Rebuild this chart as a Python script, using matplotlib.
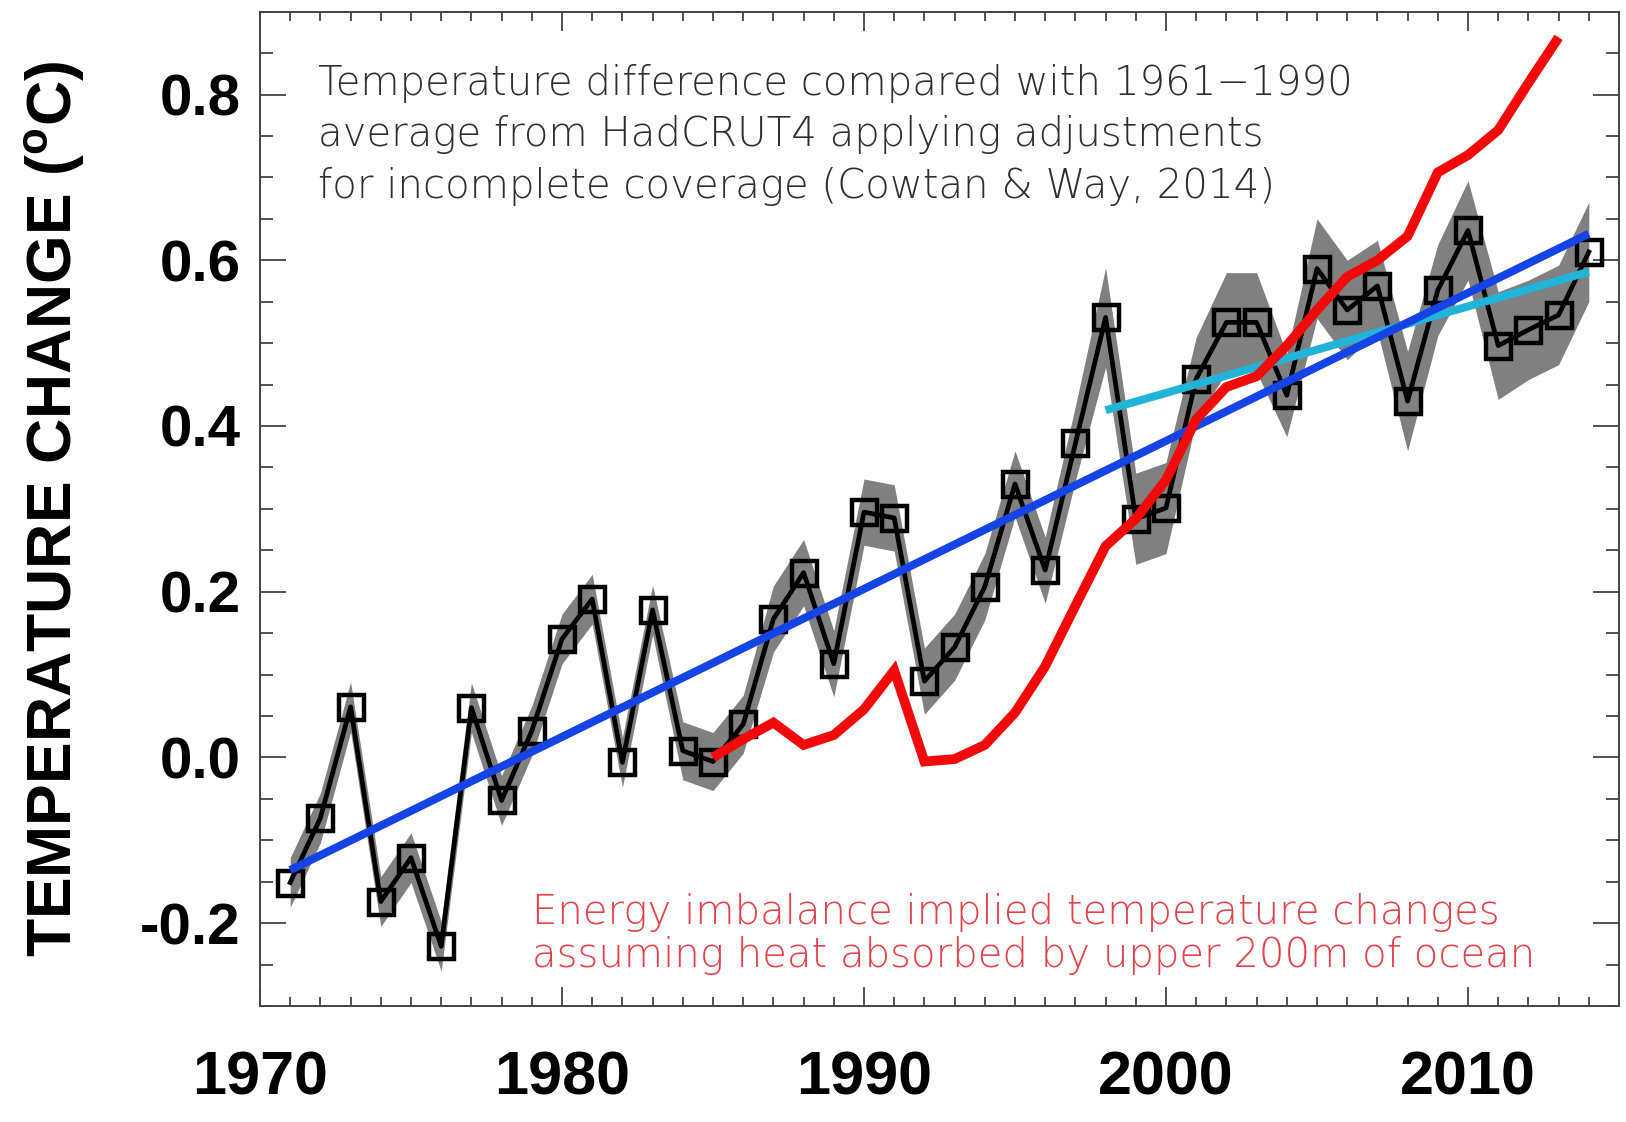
import numpy as np
import matplotlib
matplotlib.use("Agg")
import matplotlib.pyplot as plt
from matplotlib.ticker import MultipleLocator

# Annual global temperature anomalies (deg C, relative to 1961-1990)
years = list(range(1971, 2015))
anomaly = [-0.151, -0.073, 0.061, -0.174, -0.121, -0.228, 0.060, -0.052, 0.032, 0.143,
           0.191, -0.006, 0.178, 0.008, -0.005, 0.040, 0.167, 0.223, 0.113, 0.296,
           0.289, 0.092, 0.133, 0.206, 0.330, 0.226, 0.379, 0.531, 0.288, 0.301,
           0.457, 0.525, 0.525, 0.437, 0.590, 0.540, 0.569, 0.430, 0.564, 0.636,
           0.497, 0.516, 0.534, 0.610]
# Half-width of the uncertainty range for each year
uncertainty = [0.030, 0.030, 0.030, 0.030, 0.030, 0.030, 0.030, 0.030, 0.030, 0.030,
               0.030, 0.030, 0.030, 0.035, 0.035, 0.035, 0.040, 0.040, 0.040, 0.040,
               0.040, 0.040, 0.040, 0.040, 0.040, 0.040, 0.045, 0.060, 0.055, 0.055,
               0.050, 0.060, 0.060, 0.050, 0.060, 0.060, 0.055, 0.060, 0.055, 0.060,
               0.065, 0.060, 0.060, 0.060]

# Temperature change implied by the energy imbalance (upper 200 m of ocean)
imbalance_years = list(range(1985, 2014))
imbalance_temp = [0.000, 0.022, 0.042, 0.015, 0.027, 0.058, 0.105, -0.005, -0.002, 0.015,
                  0.054, 0.110, 0.183, 0.255, 0.288, 0.335, 0.408, 0.447, 0.460, 0.497,
                  0.540, 0.580, 0.600, 0.629, 0.706, 0.727, 0.757, 0.814, 0.869]

# Linear trends: whole period and since 1998
trend_years = [1971, 2014]
trend_vals = [-0.136, 0.632]
recent_years = [1998, 2014]
recent_vals = [0.419, 0.586]

xtick_years = [1970, 1980, 1990, 2000, 2010]
ytick_vals = [-0.2, 0.0, 0.2, 0.4, 0.6, 0.8]

note_top = ("Temperature difference compared with 1961\u22121990\n"
            "average from HadCRUT4 applying adjustments\n"
            "for incomplete coverage (Cowtan & Way, 2014)")
note_bottom = ("Energy imbalance implied temperature changes\n"
               "assuming heat absorbed by upper 200m of ocean")

plt.rcParams["mathtext.fontset"] = "custom"
plt.rcParams["mathtext.bf"] = "Liberation Sans:bold"
plt.rcParams["mathtext.rm"] = "Liberation Sans:bold"

fig = plt.figure(figsize=(16.26, 11.22), dpi=100)
ax = fig.add_axes([0.1599, 0.1034, 0.8358, 0.8862])

yr = np.array(years, dtype=float)
an = np.array(anomaly)
un = np.array(uncertainty)

ax.fill_between(yr, an - un, an + un, color="#808080", lw=0, zorder=1)
ax.plot(yr, an, color="black", lw=3.4, zorder=2,
        marker="s", markersize=18, markerfacecolor="none",
        markeredgecolor="black", markeredgewidth=3.2)
ax.plot(recent_years, recent_vals, color="#22b4d8", lw=5.8,
        solid_capstyle="butt", zorder=3)
ax.plot(trend_years, trend_vals, color="#1443e6", lw=5.8,
        solid_capstyle="butt", zorder=4)
ax.plot(imbalance_years, imbalance_temp, color="#f20a0a", lw=7,
        solid_joinstyle="miter", solid_capstyle="butt", zorder=5)

ax.set_xlim(1970, 2015)
ax.set_ylim(-0.3, 0.9)

ax.xaxis.set_major_locator(MultipleLocator(10))
ax.xaxis.set_minor_locator(MultipleLocator(1))
ax.yaxis.set_major_locator(MultipleLocator(0.2))
ax.yaxis.set_minor_locator(MultipleLocator(0.05))
ax.set_xticks(xtick_years)
ax.set_yticks(ytick_vals)
ax.set_xticklabels([str(y) for y in xtick_years],
                   family="Liberation Sans", fontweight="bold", fontsize=44)
ax.set_yticklabels(["%.1f" % v for v in ytick_vals],
                   family="Liberation Sans", fontweight="bold", fontsize=42)

ax.tick_params(axis="both", which="both", direction="in", color="#444444",
               top=True, right=True, width=1.3)
ax.tick_params(axis="x", which="major", length=13.5, pad=32)
ax.tick_params(axis="x", which="minor", length=6.5)
ax.tick_params(axis="y", which="major", length=19, pad=14)
ax.tick_params(axis="y", which="minor", length=9.5)
for s in ax.spines.values():
    s.set_color("#444444")
    s.set_linewidth(1.4)

ax.set_ylabel(r"TEMPERATURE CHANGE ($^{\mathbf{o}}$C)",
              family="Liberation Sans", fontweight="bold", fontsize=45,
              labelpad=38)

ax.text(0.043, 0.947, note_top, transform=ax.transAxes, ha="left", va="top",
        fontsize=29, color="#2e2e2e", family="DejaVu Sans",
        fontweight="light", linespacing=1.39, zorder=6)
ax.text(0.200, 0.114, note_bottom, transform=ax.transAxes, ha="left", va="top",
        fontsize=29, color="#e4404a", family="DejaVu Sans",
        fontweight="light", linespacing=1.13, zorder=6)

fig.savefig("out.png", dpi=100, facecolor="white")
